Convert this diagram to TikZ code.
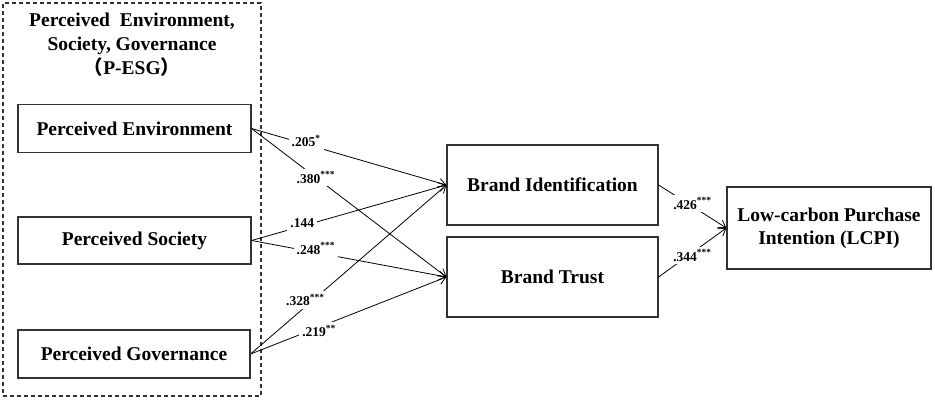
\documentclass[tikz,border=0pt]{standalone}
\usepackage{fontspec}
\setmainfont{Liberation Serif}
\newfontfamily\cjk{Noto Sans CJK SC}
\usetikzlibrary{arrows.meta}
\tikzset{
  box/.style={draw=black!80, line width=1.2pt, fill=white, font=\fontsize{19.5}{23}\selectfont\bfseries, align=center, inner sep=0pt},
  link/.style={draw=black, line width=0.8pt, -{Straight Barb[length=7pt,width=9pt,line width=0.8pt]}},
  coef/.style={fill=white, font=\fontsize{13.5}{15}\selectfont\bfseries, inner sep=3pt},
  frame/.style={draw=black!80, line width=1.2pt, dash pattern=on 4pt off 3pt, inner sep=0pt}
}
\newcommand{\st}[1]{\textsuperscript{#1}}
\begin{document}
\begin{tikzpicture}[x=1pt,y=-1pt]
\useasboundingbox (0,0) rectangle (935,401);
\node[frame, minimum width=258pt, minimum height=393pt] (esg) at (132,199.5) {};
\node[font=\fontsize{19.5}{24}\selectfont\bfseries, align=center] (title) at (132,45)
  {Perceived\ \ Environment,\\Society, Governance\\{\cjk （}P-ESG{\cjk ）}};
\node[box, minimum width=233pt, minimum height=48pt] (pe) at (134.5,128.5) {Perceived Environment};
\node[box, minimum width=233pt, minimum height=47pt] (ps) at (134.5,240.5) {Perceived Society};
\node[box, minimum width=232pt, minimum height=48pt] (pg) at (134,354) {Perceived Governance};
\node[box, minimum width=211pt, minimum height=80pt] (bi) at (552.5,185) {Brand Identification};
\node[box, minimum width=211pt, minimum height=80pt] (bt) at (552.5,277) {Brand Trust};
\node[box, minimum width=204pt, minimum height=82pt] (lcpi) at (829,228) {Low-carbon Purchase\\Intention (LCPI)};

\draw[link] (pe.east) -- node[coef, pos=0.28, yshift=3pt] {.205\st{*}} (bi.west);
\draw[link] (pe.east) -- node[coef, pos=0.33] {.380\st{***}} (bt.west);
\draw[link] (ps.east) -- node[coef, pos=0.26, yshift=3pt] {.144} (bi.west);
\draw[link] (ps.east) -- node[coef, pos=0.33, yshift=4pt] {.248\st{***}} (bt.west);
\draw[link] (pg.east) -- node[coef, pos=0.3, xshift=-4pt, yshift=3pt] {.328\st{***}} (bi.west);
\draw[link] (pg.east) -- node[coef, pos=0.35, yshift=-4pt] {.219\st{**}} (bt.west);
\draw[link] (bi.east) -- node[coef, pos=0.5, yshift=3pt] {.426\st{***}} (lcpi.west);
\draw[link] (bt.east) -- node[coef, pos=0.5, yshift=-3pt] {.344\st{***}} (lcpi.west);
\end{tikzpicture}
\end{document}
